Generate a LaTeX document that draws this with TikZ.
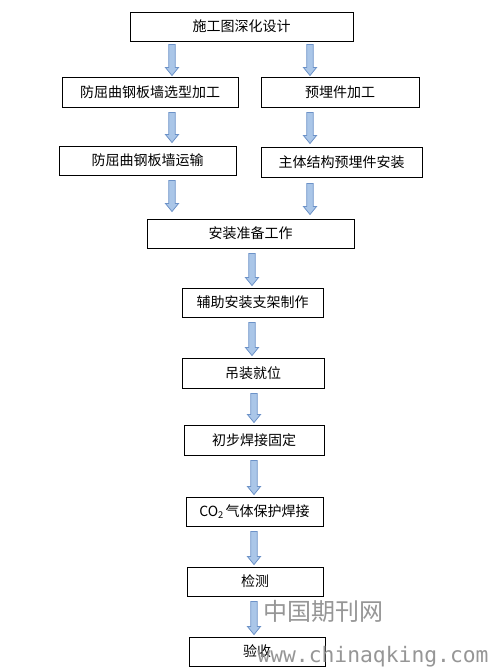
\documentclass[tikz,border=0pt]{standalone}
\usepackage{fontspec}
\setmainfont{Noto Sans CJK SC}
\newfontfamily\wmmono{DejaVu Sans Mono}
\usetikzlibrary{calc}
\definecolor{arrfill}{RGB}{170,198,232}
\definecolor{arrline}{RGB}{108,146,200}
\definecolor{wmgray}{RGB}{150,150,150}
\begin{document}
\begin{tikzpicture}[x=0.75pt,y=-0.75pt,
  box/.style={draw=black, line width=0.75pt, inner sep=0pt, fill=white,
    font=\fontsize{10.5pt}{12pt}\selectfont},
  barrow/.style={draw=arrline, fill=arrfill, line width=0.6pt, line join=miter,
    to path={let \p1=(\tikztostart), \p2=(\tikztotarget) in
      (\x1-2.4pt,\y1) -- (\x1-2.4pt,\y2+6pt) -- (\x1-4.9pt,\y2+6pt) -- (\x1,\y2)
      -- (\x1+4.9pt,\y2+6pt) -- (\x1+2.4pt,\y2+6pt) -- (\x1+2.4pt,\y1) -- cycle}},
  wm/.style={text=wmgray, inner sep=0pt}]
\useasboundingbox (0,0) rectangle (489,671);
\fill[white] (0,0) rectangle (489,671);

\coordinate (xL) at (172,0);
\coordinate (xR) at (310,0);
\coordinate (xC) at (252,0);
\coordinate (xD) at (254,0);

\node[box, minimum width=167.25pt, minimum height=21.75pt] (b1) at (241.5,26.5) {施工图深化设计};
\node[box, minimum width=132pt, minimum height=22.5pt] (b2L) at (150,92) {防屈曲钢板墙选型加工};
\node[box, minimum width=118.5pt, minimum height=22.5pt] (b2R) at (340,92) {预埋件加工};
\node[box, minimum width=132.75pt, minimum height=21.75pt] (b3L) at (147.5,160.5) {防屈曲钢板墙运输};
\node[box, minimum width=120.75pt, minimum height=22.5pt] (b3R) at (341.5,162) {主体结构预埋件安装};
\node[box, minimum width=155.25pt, minimum height=21.75pt] (b4) at (250.5,233.5) {安装准备工作};
\node[box, minimum width=105.75pt, minimum height=21.75pt] (b5) at (252.5,302.5) {辅助安装支架制作};
\node[box, minimum width=106.5pt, minimum height=22.5pt] (b6) at (253,373) {吊装就位};
\node[box, minimum width=105pt, minimum height=22.5pt] (b7) at (254,440) {初步焊接固定};
\node[box, minimum width=102.75pt, minimum height=21.75pt] (b8) at (254.5,511.5) {CO\raisebox{-0.35ex}{\fontsize{7pt}{8pt}\selectfont 2}\,气体保护焊接};
\node[box, minimum width=102pt, minimum height=21.75pt] (b9) at (255,581.5) {检测};
\node[box, minimum width=102pt, minimum height=21.75pt] (b10) at (257,651.5) {验收};

\draw[barrow] ($(b1.south -| xL)+(0,3)$) to ($(b2L.north -| xL)+(0,-1)$);
\draw[barrow] ($(b1.south -| xR)+(0,3)$) to ($(b2R.north -| xR)+(0,-1)$);
\draw[barrow] ($(b2L.south -| xL)+(0,5)$) to ($(b3L.north -| xL)+(0,-3)$);
\draw[barrow] ($(b2R.south -| xR)+(0,5)$) to ($(b3R.north -| xR)+(0,-3)$);
\draw[barrow] ($(b3L.south -| xL)+(0,5)$) to ($(b4.north -| xL)+(0,-7)$);
\draw[barrow] ($(b3R.south -| xR)+(0,6)$) to ($(b4.north -| xR)+(0,-4)$);
\draw[barrow] ($(b4.south -| xC)+(0,5)$) to ($(b5.north -| xC)+(0,-2)$);
\draw[barrow] ($(b5.south -| xC)+(0,5)$) to ($(b6.north -| xC)+(0,-2)$);
\draw[barrow] ($(b6.south -| xD)+(0,5)$) to ($(b7.north -| xD)+(0,-2)$);
\draw[barrow] ($(b7.south -| xD)+(0,5)$) to ($(b8.north -| xD)+(0,-2)$);
\draw[barrow] ($(b8.south -| xD)+(0,5)$) to ($(b9.north -| xD)+(0,-2)$);
\draw[barrow] ($(b9.south -| xD)+(0,5)$) to ($(b10.north -| xD)+(0,-2)$);

\node[wm, font=\fontsize{18pt}{20pt}\selectfont] (wm1) at (323,611) {中国期刊网};
\node[wm, font=\wmmono\fontsize{16pt}{18pt}\selectfont] (wm2) at (373,657) {www.chinaqking.com};
\end{tikzpicture}
\end{document}
